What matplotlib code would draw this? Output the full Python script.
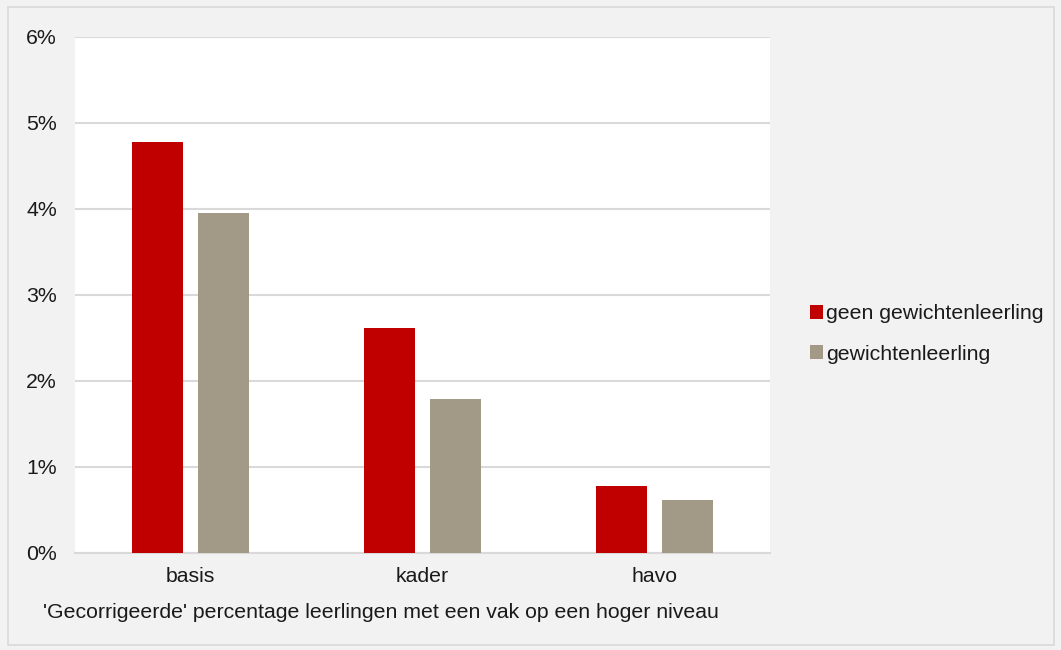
import matplotlib.pyplot as plt
import numpy as np
from matplotlib.patches import Rectangle
from matplotlib.ticker import FuncFormatter

plt.rcParams['font.family'] = ['Liberation Sans', 'DejaVu Sans']

# data
categories = ["basis", "kader", "havo"]
geen_gewichten = [4.78, 2.62, 0.78]
gewichten = [3.95, 1.79, 0.62]
series_names = ["geen gewichtenleerling", "gewichtenleerling"]
xlabel = "'Gecorrigeerde' percentage leerlingen met een vak op een hoger niveau"

red = "#c00000"
taupe = "#a29a87"
grid_col = "#d9d9d9"
bg = "#f2f2f2"
fs = 15.3

fig = plt.figure(figsize=(10.61, 6.5), dpi=100, facecolor=bg)
ax = fig.add_axes([75 / 1061, 1 - 553 / 650, 695 / 1061, 516 / 650])
ax.set_facecolor("white")

x = np.arange(len(categories))
w = 0.22
off = 0.1425
ax.bar(x - off, geen_gewichten, w, color=red, label=series_names[0], zorder=3)
ax.bar(x + off, gewichten, w, color=taupe, label=series_names[1], zorder=3)

ax.set_xlim(-0.5, 2.5)
ax.set_ylim(0, 6)
ax.set_yticks(range(0, 7))
ax.yaxis.set_major_formatter(FuncFormatter(lambda v, p: f"{int(v)}%"))
ax.set_xticks(x)
ax.set_xticklabels(categories)
ax.grid(axis="y", color=grid_col, linewidth=1.5, zorder=0)
for s in ["top", "right", "left"]:
    ax.spines[s].set_visible(False)
ax.spines["bottom"].set_color(grid_col)
ax.spines["bottom"].set_linewidth(1.5)
ax.tick_params(axis="both", length=0, labelsize=fs, colors="#1a1a1a")
ax.tick_params(axis="y", pad=13)
ax.tick_params(axis="x", pad=10)

fig.text(381 / 1061, 1 - 612 / 650, xlabel, ha="center", va="center",
         fontsize=fs, color="#1a1a1a")

leg = fig.legend(loc="center left", bbox_to_anchor=(791 / 1061, 1 - 334 / 650),
                 frameon=False, fontsize=fs, handlelength=0.6, handleheight=0.6,
                 handletextpad=0.15, labelspacing=1.0)
for t in leg.get_texts():
    t.set_color("#1a1a1a")

fig.patches.append(Rectangle((8 / 1061, 5 / 650), 1046 / 1061, 638 / 650,
                             transform=fig.transFigure, fill=False,
                             edgecolor="#d9d9d9", linewidth=1.2))

fig.savefig("out.png", dpi=100, facecolor=bg)
